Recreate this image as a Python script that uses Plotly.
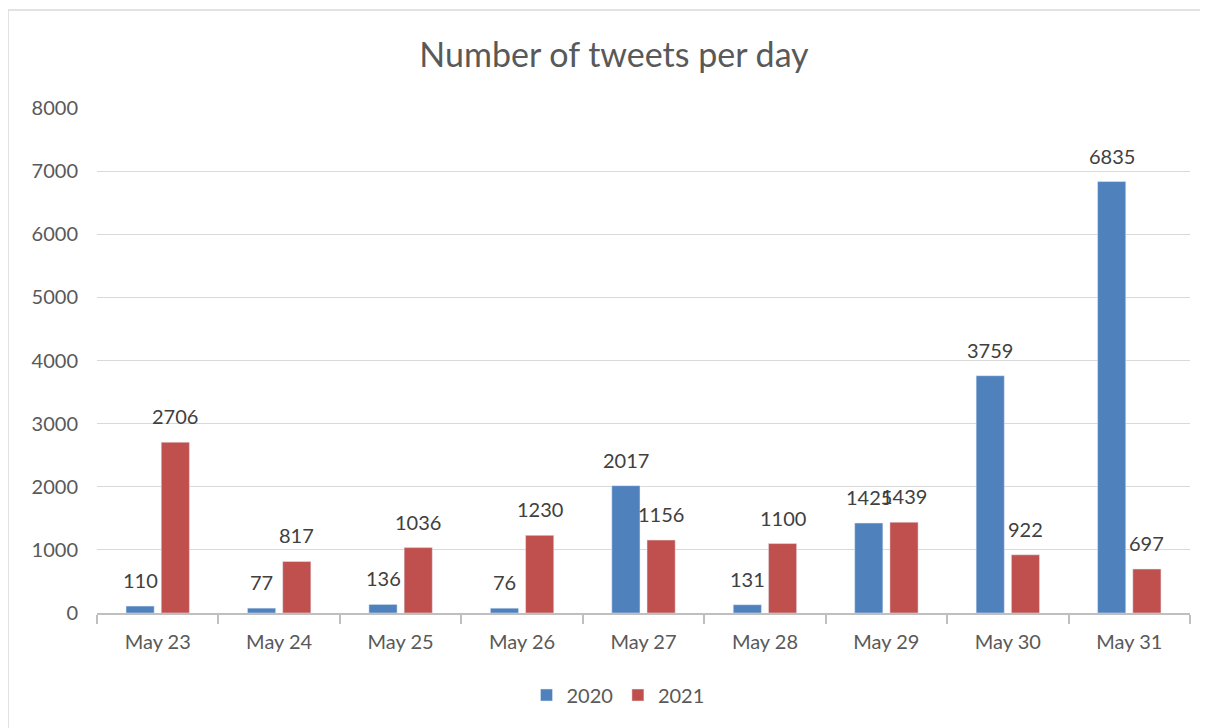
import plotly.graph_objects as go

days = ["May 23", "May 24", "May 25", "May 26", "May 27", "May 28", "May 29", "May 30", "May 31"]
tweets_2020 = [110, 77, 136, 76, 2017, 131, 1425, 3759, 6835]
tweets_2021 = [2706, 817, 1036, 1230, 1156, 1100, 1439, 922, 697]
y_ticks = [0, 1000, 2000, 3000, 4000, 5000, 6000, 7000, 8000]

FONT = "Lato, 'Open Sans', sans-serif"
W, H = 1200, 720
L, R, T, B = 89, 18, 100, 115
pw, ph = W - L - R, H - T - B
BARGAP, GROUPGAP = 0.42, 0.2
slot = pw / len(days) * (1 - BARGAP) / 2  # px width of each bar slot

fig = go.Figure()
for name, vals, col in [("2020", tweets_2020, "#4F81BD"), ("2021", tweets_2021, "#C0504D")]:
    fig.add_trace(go.Bar(name=name, x=days, y=vals, marker_color=col))

annotations = []
for sign, vals in [(-1, tweets_2020), (1, tweets_2021)]:
    for d, v in zip(days, vals):
        annotations.append(dict(x=d, y=v, text=str(v), showarrow=False, xref="x", yref="y",
                                yanchor="bottom", xanchor="center", xshift=sign * slot / 2,
                                yshift=12, font=dict(size=20, color="#404040", family=FONT)))

fig.update_layout(
    width=W, height=H,
    margin=dict(l=L, r=R, t=T, b=B),
    paper_bgcolor="white", plot_bgcolor="white",
    font=dict(family=FONT, color="#595959"),
    title=dict(text="Number of tweets per day", x=(614 - 8) / W, xref="container", xanchor="center",
               y=1 - 47 / H, yref="container", yanchor="middle",
               font=dict(size=34, color="#595959", family=FONT)),
    barmode="group", bargap=BARGAP, bargroupgap=GROUPGAP,
    showlegend=True,
    legend=dict(orientation="h", x=(618 - 8 - L) / pw, xanchor="center", y=(605 - 687) / ph, yanchor="middle",
                font=dict(size=20, color="#595959", family=FONT), itemwidth=30, traceorder="normal"),
    xaxis=dict(showline=True, linecolor="#BFBFBF", linewidth=1.5, ticks="outside",
               tickson="boundaries", ticklen=9, tickcolor="#BFBFBF", tickwidth=1.5,
               ticklabelstandoff=10,
               tickfont=dict(size=20, color="#595959", family=FONT), showgrid=False),
    yaxis=dict(range=[0, 8000], tickvals=y_ticks, showgrid=True, gridcolor="#D9D9D9",
               gridwidth=1.3, zeroline=False, showline=False, ticklabelstandoff=18,
               tickfont=dict(size=20, color="#595959", family=FONT)),
    annotations=annotations,
    shapes=[dict(type="rect", xref="paper", yref="paper",
                 x0=(0 - L) / pw, x1=(1210 - L) / pw,
                 y0=-(B + 10) / ph, y1=(T - 2) / ph + 1,
                 line=dict(color="#D9D9D9", width=1.5), fillcolor="rgba(0,0,0,0)", layer="below")],
)

fig.write_html("out.html")
